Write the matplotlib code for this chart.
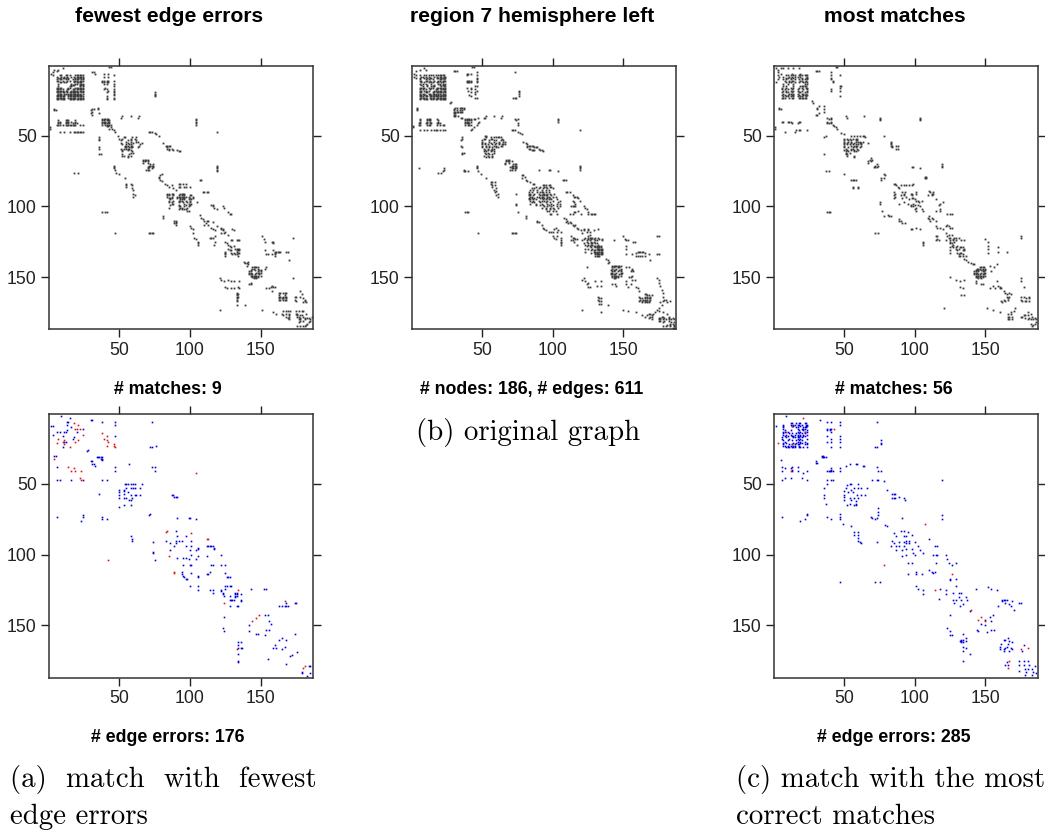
import matplotlib
matplotlib.use("Agg")
import matplotlib.pyplot as plt

# ---------- data: rows {y: [x, ...]} and single cells (x, y) ----------
fewest_rows = {
 7:[8,9,12,13,15,19,20,21,22,23,24], 8:[6,9,11,13,16,18,20,21,22,23,24], 9:[7,8,10,11,12,14,19,21,22,24],
 10:[6,8,9,12,14,17,19,20,21,23,24], 11:[6,7,10,13,15,18,19,20,22,23,24], 12:[8,9,11,12,18,20,21,22,23],
 13:[7,16,19,20,22,23,24], 14:[16,17,18,22,23,24], 15:[7,15,16,22,24], 16:[6,7,8,9,14,15,19,20,21,22,23,24],
 17:[6,7,8,10,13,14,17,18,20,21,22,23,24], 18:[6,7,8,9,10,12,13,16,17,18,19,20,22,23,24],
 19:[6,7,8,10,11,13,15,16,17,18,19,20,21,23,24], 20:[7,8,9,11,12,14,15,16,17,18,19,20,21,22,24],
 21:[6,7,8,9,11,14,15,16,18,19,20,21,22,23], 22:[6,7,8,9,10,11,14,15,16,17,18,19,20,21,22,23,24],
 23:[6,7,8,9,10,11,14,15,16,17,18,19,21,22,23,24], 24:[6,7,9,10,11,15,16,17,18,20,21,22,23,24],
 38:[38,39,40,41,42], 39:[7,12,13,14,19,38,39,41,42,43], 40:[7,8,12,13,14,16,19,38,39,40,42,43],
 41:[7,8,12,14,17,19,20,38,39,40,41,43], 42:[6,7,8,10,12,13,14,15,16,17,18,19,22,24,38,40,41,42,43,44],
 43:[41,42], 47:[8,11,15,18,19,20,21,22,23,24,71,72,73,119],
 51:[53,54,59,62], 52:[52,58,61], 53:[51,56,58,62], 54:[55,58,62,63], 55:[51,56,60,66,81], 56:[52,55,57,58,65],
 57:[54,55,56,58,59,64,83,84,85,86], 58:[54,55,57,58,59,63,84], 59:[51,53,55,56,57,84,85,87], 60:[52,56,58,85,88,91],
 61:[52,59,92,93], 62:[58,60], 63:[52,57], 64:[52,53,56,58], 65:[56],
 67:[67,68,69,70], 68:[67,68,70], 69:[67,70], 70:[72,74], 71:[71,72,73,74], 72:[70,71,74], 73:[70,73], 74:[69,70,71],
 91:[84,85,87,88,93,94,95,96], 92:[84,85,88,92,94,96,100,101], 93:[84,87,91,92,93,94,95,96,97,99,102],
 94:[85,86,87,91,93,95,96,100,102], 95:[86,93,94,96,99,101], 96:[85,88,92,93,94,97,100], 97:[85,87,92,95,98,100],
 98:[87,88,96,99,101], 99:[86,92,97,100], 100:[92,93,96,99], 101:[85,93,94,98], 102:[92,94,96,97], 103:[98,99],
 143:[144,145,146,147,148], 144:[144,145,148], 145:[143,146,149,150], 146:[142,143,148,150], 147:[142,143,147,148,149,150],
 148:[142,143,144,146,149], 149:[143,144,145,146,147,148,150], 150:[144,145,146,147,148], 151:[145,147],
 161:[163,164,166,167,168], 163:[163,167], 164:[163,164,166,167,168,174,175,178], 165:[163,165,166,168],
 166:[163,164,166,167,168,174,181],
}
fewest_cells = [(10,2),(7,3),(4,3),(6,4),(3,5),(2,6),(3,7),(43,1),(44,1),(31,5),(32,5),(33,6),(39,6),(42,6),(46,7),(39,8),(42,8),
 (38,11),(39,11),(41,11),(42,11),(46,11),(38,12),(39,12),(41,12),(42,12),(39,13),(41,13),(46,13),(46,15),(40,16),(39,17),(41,17),(46,17),(42,18),(46,18),
 (41,19),(46,19),(46,20),(46,21),(41,22),(41,23),(46,23),(41,24),(46,24),(75,19),(75,20),(75,21),(75,22),(4,31),(4,32),(5,32),
 (31,31),(32,31),(35,30),(35,31),(30,32),(31,33),(36,34),(30,34),(31,35),(45,45),(46,46),(47,47),(44,44),(43,45),(51,37),(52,36),(58,36),(63,37),(64,36),
 (104,38),(104,39),(104,40),(104,41),(104,42),(1,44),(1,45),(75,48),(76,49),(78,50),(36,51),(36,52),(36,53),(36,58),(36,59),(36,63),(37,63),
 (49,50),(50,52),(119,71),(119,72),(119,73),(119,74),(119,75),(46,71),(46,72),(46,73),(47,74),(48,76),(50,77),(54,80),(18,76),(21,76),
 (55,84),(55,85),(58,84),(59,85),(55,86),(59,87),(60,88),(60,91),(61,92),(60,93),(78,79),(79,78),(80,77),(78,80),(79,81),(80,82),(82,84),(84,85),(85,86),(87,85),(88,87),(90,88),
 (107,81),(108,81),(92,84),(93,84),(95,84),(97,84),(92,86),(93,86),(96,86),(97,86),(100,86),(109,90),(110,90),(112,90),(113,90),(105,97),
 (115,99),(116,99),(116,100),(117,101),(119,102),(123,100),(124,101),(127,104),(128,105),(129,105),(38,104),(40,104),(41,104),(81,107),(81,108),
 (90,110),(90,111),(90,112),(90,113),(89,110),(89,112),(107,106),(108,108),(109,109),(110,110),(111,112),(112,110),(113,110),(110,113),(113,113),(115,115),(116,116),(116,111),(118,117),(119,114),
 (122,115),(122,116),(123,116),(122,119),(123,117),(125,118),(124,119),(127,120),(130,116),(131,117),(100,114),(101,115),(102,116),(102,119),(103,122),(104,123),(106,125),(106,126),(106,127),
 (114,122),(115,122),(116,122),(118,121),(118,125),(117,127),(47,119),(71,119),(72,119),(73,119),(74,119),(129,124),(130,124),(133,124),(134,124),(135,124),
 (125,125),(126,126),(127,127),(128,128),(129,129),(127,130),(128,131),(129,131),(131,128),(132,130),(133,130),(134,130),(135,130),(133,131),(134,131),(135,131),(131,133),(132,134),(133,132),(134,133),(135,133),
 (125,132),(125,133),(125,134),(125,135),(134,135),(133,134),(129,133),(130,134),(138,139),(139,140),(140,140),(141,139),(141,141),(140,142),(154,143),(153,144),
 (121,151),(122,152),(124,153),(127,152),(131,153),(135,153),(129,153),(143,154),(143,155),(142,155),(125,157),(126,158),(129,158),(131,158),(134,157),(135,158),
 (133,161),(133,162),(133,163),(133,164),(133,165),(133,166),(133,167),(134,162),(134,164),(133,170),(139,170),(121,173),(151,173),
 (151,121),(152,123),(153,125),(158,125),(159,125),(159,126),(153,131),(154,134),(155,134),(158,134),(159,131),(160,132),(161,132),(162,132),(163,132),(164,132),(168,132),(169,132),(160,133),(160,134),(160,135),(170,138),(173,122),(173,151),
 (158,156),(157,157),(154,158),(159,157),(160,157),(156,158),(158,160),(178,160),(179,162),(180,165),(182,168),(175,167),(180,168),(181,167),
 (159,175),(161,176),(165,176),(166,177),(168,174),(169,174),(170,176),(170,177),(168,178),(169,179),(170,180),(168,176),(166,174),(171,174),(170,178),
 (175,174),(177,174),(179,174),(180,174),(175,176),(176,176),(176,177),(177,178),(178,177),(179,177),(180,178),(178,179),(181,179),(177,180),(178,180),(181,180),(180,181),(178,181),(176,178),(177,182),(182,176),(183,179),(184,179),(185,180),(185,181),(184,182),(183,183),(182,184),(180,185),(178,185),(181,185),(176,185),(186,178)]

original_rows = {
 7:[9,10,12,14,15,17,19,20,21,22,23], 8:[7,8,10,12,16,18,20,21,23,24], 9:[6,9,11,13,14,18,19,21,22,24], 10:[6,10,12,15,20,21,23],
 11:[6,7,10,11,13,16,19,20,22,23,24,39,40,41,42,46], 12:[7,9,12,14,15,18,19,21,22,39,40,41,42,46], 13:[6,8,10,14,19,20,22,24], 14:[7,11,16,20,22,23],
 15:[8,11,14,15,16,21,23,24,45,46], 16:[6,7,8,9,12,14,15,18,19,20,21,22,24,39,42], 17:[6,8,10,13,17,18,21,22,23,24,42,45], 18:[6,7,9,10,12,16,17,19,20,21,23,24,40,46,76],
 19:[6,7,10,11,15,16,18,19,20,21,22,24,42,45,76], 20:[6,8,9,12,13,15,16,17,19,20,22,24,45,76], 21:[6,7,9,10,13,14,16,17,19,21,22,23,24,41],
 22:[6,7,8,10,11,13,14,15,16,17,18,19,20,21,22,24,42,76], 23:[6,7,8,9,10,13,14,15,16,18,19,20,21,22,23,24,45,46,73,74], 24:[6,9,10,11,14,15,17,18,20,21,22,23,24],
 30:[4,31,32,34,35,36,37], 31:[4,30,37], 32:[4,30,32,34,36], 33:[30,31,32,33,34,35,36], 34:[30,31], 35:[30,31], 36:[30,31,33,53,58,64], 37:[35,36,47,51,52,63],
 38:[6,11,12,13,18,38,39,40,41,42,44,45,73,75,104], 39:[6,11,12,13,19,38,39,41,42,74,104], 40:[6,11,13,19,38,39,40,42,48,104],
 41:[5,6,10,11,13,14,18,19,20,38,39,40,41,47,75], 42:[5,6,11,12,13,18,20,22,23,38,40,41,42,46,75],
 46:[6,9,11,14,16,17,18,20,22,24,42,71,72,73,119],
 50:[52,53], 51:[36,53,56,58,60,61,62,63], 52:[36,51,52,56,57,64], 53:[35,50,55,58,60,63,65], 54:[50,55,58,62,65,66,79], 55:[50,52,56,60,62,81], 56:[50,52,54,57,59,62,64,65,66,82],
 57:[35,50,53,55,58,60,63,64,82,83,84,85,86], 58:[36,50,53,55,57,60,61,82,87,88,89], 59:[51,54,57,58,83,84,90], 60:[52,54,56,57,85,86,87,91,92], 61:[51,53,56,58,93], 62:[36,37,52,54,58], 63:[36,53,55,57], 64:[51,54,57], 65:[53,55,57],
 67:[67,68,69], 68:[67,68,69,71], 69:[66,69], 70:[66,72,73,74], 71:[46,71,72,73,74,119], 72:[46,70,71,74,119], 73:[5,23,46,71,72,73,74,119], 74:[23,37,70,71,73,90,97,98,119],
 84:[86,87], 85:[93,94,95,97,98], 86:[88,91,94,95,98,99], 87:[85,87,90,93,96,100], 88:[84,86,89,92,95,97],
 90:[83,85,89,91,92,93,95,97,109,110,112], 91:[74,83,84,87,90,93,94,96,98,101], 92:[83,84,86,91,92,94,95,96,99,114], 93:[84,85,89,90,92,93,96,97,100,102,115,116,117],
 94:[83,85,87,91,92,94,96,98,118], 95:[83,84,86,88,93,95,97,99,103], 96:[84,86,90,92,94,96,100,105,114,119], 97:[85,87,91,95,98,104,115],
 98:[74,84,88,92,96,99,103,105,116], 99:[74,88,91,93,97,100], 100:[94,96,99,103,105,113,114,115,116,122], 101:[92,95,98,100,104,123], 102:[95,98,101,124], 103:[96,97,100,102,118],
 104:[38,39,40,75,115,116,125], 105:[98,99,103,112,114,120,125,127,128,129,130],
 122:[123,125,126,127,128,130,132,101,106,114,115], 123:[122,125,127,129,133,135,102,151,116,117], 124:[121,124,126,130,131,135,106,143,113,114,152,153], 125:[124,127,129,106,115,157,158],
 126:[122,125,127,128,130,131,106], 127:[123,125,127,128,132,106,117], 128:[124,126,129,130,131,133,134,152], 129:[127,130,131,132,133,134], 130:[123,125,128,131,132,133,134,135,152],
 131:[127,129,130,132,133,134,135], 132:[123,129,130,131,133,134,135,160,161,162,163,164], 133:[127,130,131,132,134,135,159,165], 134:[130,131,132,133,134,135,152,156,168,174,175], 135:[130,131,132,133,159,160,162,163,165],
 142:[142,143,144,145,146,147,148], 143:[142,143,146,147,152,154,124], 144:[142,145,148,156], 145:[141,143,144,147,148,156], 146:[142,143,146,148,155,157], 147:[141,142,145,148,149],
 148:[141,142,143,144,147,148], 149:[142,143,144,145,146,148,156], 150:[142,144,145,146,154,155], 151:[143,144,122,174],
 164:[132,161,165,167,169,178], 165:[133,134,162,163,165,167,168,169], 166:[132,162,164,165,167,169,179,180], 167:[133,134,161,163,165,166,168,178,183], 168:[163,165,167,168,176,181],
 179:[168,175,176,179,182,185], 180:[170,175,176,178,180,182,184,186], 181:[175,176,179,182], 182:[178,184,186], 183:[183,185], 184:[181,183,186], 185:[178,180,183,186], 186:[185,186],
}
original_cells = [(2,6),(3,4),(6,3),(9,2),(10,3),(3,7),(2,8),(3,9),(6,7),(43,1),(44,1),(30,4),(31,4),(32,4),(39,6),(40,6),(42,6),(46,5),(46,7),(73,5),(39,7),(46,9),(46,10),
 (72,23),(27,27),(28,26),(44,44),(43,45),(42,46),(1,43),(1,44),(75,47),(77,48),(78,49),(37,75),(38,75),(40,75),(19,76),(21,76),(22,75),(47,75),(49,77),(53,80),(104,75),
 (56,83),(56,84),(57,86),(58,88),(59,90),(60,92),(61,93),(59,83),(59,85),(60,87),(60,89),(61,91),(57,83),(57,85),(78,78),(79,78),(78,80),(80,79),(81,81),(82,82),(84,83),(107,81),(108,81),(109,81),
 (81,107),(81,108),(47,119),(71,119),(72,119),(73,119),(74,119),(89,110),(89,111),(90,111),(92,113),(93,115),(94,116),(95,117),(97,118),(99,118),(100,118),(101,116),(103,118),(102,115),(104,117),(106,118),
 (108,108),(109,109),(110,110),(109,111),(111,112),(112,111),(113,112),(114,113),(115,114),(116,113),(117,115),(118,116),(120,117),(122,116),(122,117),(124,118),(125,116),(125,117),(126,118),(126,120),(129,117),(132,116),(121,119),(125,121),
 (100,121),(103,121),(113,121),(138,137),(139,138),(140,139),(139,140),(150,121),(157,125),(169,138),(174,121),(175,121),
 (121,152),(122,151),(123,153),(124,155),(125,154),(125,157),(126,157),(130,153),(131,156),(134,153),(134,156),(142,155),(144,155),(145,156),(152,153),(156,152),(158,152),(152,155),(153,157),(155,155),
 (159,157),(160,158),(161,160),(165,162),(166,162),(167,163),(168,163),(170,163),(174,151),(175,152),(175,154),(176,156),(177,159),(178,161),
 (133,169),(134,169),(134,175),(139,170),(121,173),(150,173),(153,174),(159,175),(163,177),(165,178),(167,177),(168,176),(169,176),(169,178),(170,177),(170,178),(171,176),(172,175),(174,173),(175,172),(177,170),
 (175,174),(178,175),(181,176),(177,178),(178,178),(182,178)]

most_rows = {
 6:[13,19], 7:[9,10,12,14,15,18,19,20,22,23,24], 8:[7,11,13,15,17,19,24], 9:[9,10,12,14,20,23,24], 10:[7,9,12,15,18,20,22,24], 11:[8,11,13,14,19,20,23,42],
 12:[9,11,12,15,18,21,22,24,42], 13:[7,10,14,22,24], 15:[7,9,14,19,20,21,22,23,47,48], 16:[6,9,12,14,18,20,23,24,47], 17:[6,8,10,13,17,21,24,41], 18:[7,9,12,14,17,20,24,41,47],
 19:[6,9,10,13,18,19,22,24], 20:[7,11,12,14,17,20,21,23], 21:[6,8,10,13,14,18,21,22,24], 22:[7,9,10,12,14,17,19,20,23,47], 23:[6,7,8,11,13,14,18,19,20,21,22,23],
 50:[55,57,59,61,63,64,78], 52:[50,52,54,56,58,59], 53:[50,53,55,58,59], 54:[50,53,55,58,60,61,63,83], 55:[50,52,55,57,61,62,67,83], 56:[50,52,54,56,58,60,62,83],
 57:[50,55,57,58,59,62,83,87,88], 58:[50,53,56,58,61,84], 59:[51,55,56,59,87,88], 60:[50,52,55,57,60], 61:[51,53,57,58], 62:[51,54], 63:[36,51,52], 64:[52,57], 65:[57],
 143:[146,147,148,149], 144:[144,145,146,148,150], 145:[143,144,145,147,148,150], 146:[142,143,145,148,149,154], 147:[142,143,144,147,149,150], 148:[142,143,145,146,148,149],
 149:[143,144,145,146,147,148,150], 150:[143,144,146,148], 151:[145,147],
}
most_cells = [(2,2),(3,3),(5,2),(7,2),(10,2),(14,2),(18,2),(3,5),(3,7),(4,8),(3,10),(2,12),(5,6),(30,4),(31,4),(32,4),(44,1),(45,1),(41,5),(41,7),(47,7),(41,9),(41,10),
 (4,30),(4,31),(5,31),(27,25),(28,27),(31,30),(31,31),(32,29),(36,29),(36,31),(36,33),(30,35),(31,35),(32,34),(38,37),(39,38),(41,37),(41,38),(38,40),(39,41),(41,40),(41,41),(38,41),
 (42,42),(43,43),(44,44),(45,45),(1,44),(1,45),(51,36),(52,37),(64,36),(75,37),(75,38),(75,39),(104,37),(104,38),(104,39),(6,40),(7,40),(10,40),(11,40),(12,40),(13,41),(17,41),(18,40),(19,40),
 (8,47),(15,47),(16,46),(18,46),(19,46),(24,46),(37,50),(36,51),(48,48),(50,49),(65,51),(84,57),(119,70),(119,71),(119,72),(98,72),(99,72),(104,73),
 (67,68),(68,67),(69,66),(67,69),(69,68),(70,67),(72,71),(73,70),(72,72),(73,72),(71,72),(74,71),(37,75),(39,75),(50,77),(55,81),(56,81),(57,81),(58,81),(56,86),(56,87),(60,86),(60,87),
 (78,77),(79,78),(76,80),(76,81),(78,80),(107,79),(107,80),(108,80),(108,79),(85,84),(86,84),(87,85),(88,86),(89,87),(90,85),(92,85),(94,85),(96,85),(98,85),(99,84),
 (85,90),(86,91),(85,92),(86,93),(85,94),(91,90),(92,91),(93,90),(92,92),(90,92),(94,93),(91,94),(97,91),(98,91),(98,92),(101,90),(101,91),(98,94),(99,94),(100,95),(96,95),(92,97),(89,98),(95,98),(97,99),
 (101,96),(102,96),(99,98),(100,99),(102,99),(103,97),(104,100),(99,100),(101,101),(97,100),(75,97),(75,98),(77,103),(78,107),(81,106),(82,107),(83,107),(38,104),(39,104),(40,104),(100,102),(101,103),(105,96),(105,102),(106,103),
 (110,89),(111,90),(112,91),(113,91),(115,95),(109,92),(112,92),(113,90),(120,97),(118,98),(117,99),(118,102),(115,103),(118,103),(123,105),(125,105),(126,105),(110,107),(109,108),(112,108),(110,109),(111,110),(113,109),(115,110),
 (89,109),(89,110),(90,110),(91,112),(93,112),(97,116),(98,116),(101,115),(104,116),(72,119),(74,119),(115,114),(116,115),(118,115),(120,116),(122,114),(123,113),(124,114),(125,115),(126,115),
 (122,119),(124,120),(126,120),(128,122),(129,122),(115,121),(116,121),(116,123),(115,124),(117,124),(122,124),(106,125),(106,126),(106,127),(123,121),(124,122),(125,122),(127,123),(125,124),(127,124),(129,124),(131,122),(133,124),(135,124),
 (128,125),(125,125),(125,126),(126,126),(127,127),(125,129),(125,131),(125,133),(126,128),(127,129),(129,129),(130,128),(131,130),(130,131),(129,130),(130,133),(131,134),(132,133),(133,133),(133,129),(134,129),(135,130),(134,131),(135,131),(136,135),(132,135),(131,135),(134,135),(134,134),(132,129),
 (135,137),(136,138),(138,139),(140,140),(141,141),(142,141),(150,123),(152,125),(152,128),(152,130),(152,133),(159,129),(159,132),(165,132),(175,122),(175,121),(158,141),(153,142),(156,143),
 (143,153),(143,154),(147,155),(148,155),(155,156),(153,158),(125,150),(129,152),(132,153),(135,152),(132,157),(134,158),(133,163),(135,163),(121,172),(151,172),(155,173),(160,175),(175,151),(175,153),(177,157),(159,156),(160,158),(161,158),(160,157),(158,153),(157,158),
 (163,160),(164,161),(165,162),(167,161),(168,162),(167,164),(165,164),(166,165),(163,166),(164,167),(161,167),(162,168),(166,166),(175,164),(175,166),(177,164),(179,165),(179,167),(181,165),(181,167),(176,167),(178,167),(181,164),
 (166,176),(168,176),(170,174),(166,178),(167,178),(169,178),(166,180),(167,180),(169,180),(168,175),(171,172),(177,177),(180,175),(176,178),(178,177),(180,177),(182,176),(181,179),(178,179),(175,178),(180,180),(183,178),(182,180),(184,180),(185,179),(186,180),(182,183),(184,184),(185,183),(183,185),(186,182)]

match_a_blue = [(9,2),(15,3),(13,6),(14,6),(30,5),(31,5),(38,6),(47,6),(47,8),(73,6),(2,9),(3,9),(13,8),(24,11),(6,13),(8,13),(11,13),(12,13),(13,12),(16,10),(3,15),(10,16),(20,13),(47,16),(17,18),(18,17),(11,20),(12,20),(10,24),
 (72,24),(73,24),(76,23),(27,27),(28,26),(4,30),(5,30),(30,34),(31,34),(31,36),(32,36),(33,37),(34,31),(35,31),(36,31),(37,31),(38,31),(37,32),(38,32),(38,33),(57,36),(6,38),(47,38),(47,41),(73,38),(75,38),(75,41),
 (6,47),(8,47),(16,47),(24,47),(38,47),(41,47),(54,50),(55,50),(56,50),(58,50),(60,50),(61,50),(66,50),(50,54),(53,54),(55,53),(58,53),(60,53),(61,53),(65,53),(50,56),(50,58),(50,60),(53,55),(53,57),(53,60),(56,56),(58,58),(61,58),(62,58),(65,58),(57,61),(58,61),(36,57),(50,66),(53,65),(58,65),(55,60),(59,60),
 (87,58),(88,58),(89,59),(90,59),(91,59),(72,71),(71,72),(6,73),(24,72),(24,73),(23,76),(38,73),(38,75),(41,75),(91,74),(99,74),(100,74),(104,75),(58,87),(59,89),(59,90),(74,91),(74,98),(74,99),(75,104),
 (90,83),(91,87),(97,87),(83,90),(86,92),(90,90),(92,90),(94,90),(101,90),(90,92),(89,94),(86,97),(91,102),(95,102),(97,102),(99,103),(95,107),(101,107),(100,107),(97,94),(101,94),(106,95),(106,96),(104,97),(100,97),(101,100),(106,101),(104,103),(112,101),
 (112,94),(113,94),(114,94),(115,94),(116,94),(117,95),(117,96),(122,100),(115,107),(116,107),(122,107),(125,107),(94,112),(94,114),(95,115),(96,116),(97,117),(98,117),(101,113),(106,115),(106,116),(112,114),(113,114),(114,112),(125,113),(126,116),(127,116),(128,116),
 (100,122),(106,122),(106,125),(114,125),(116,125),(116,127),(122,125),(122,126),(123,127),(123,128),(124,129),(125,122),(126,122),(128,122),(129,122),(125,124),(128,129),(128,132),(129,132),(130,132),(131,132),(133,127),(133,128),(133,129),(132,127),(132,128),(132,129),(132,130),(136,128),(136,132),(136,133),(133,136),(134,136),(128,136),
 (124,144),(123,152),(124,154),(143,124),(152,124),(154,124),(163,136),(165,136),(167,136),(168,136),(169,136),(168,134),(174,134),(175,134),(153,143),(155,143),(156,147),(157,149),(154,153),(156,153),(153,157),(148,156),(147,156),(142,150),(142,154),
 (134,162),(136,162),(134,164),(136,166),(137,166),(134,166),(134,170),(134,175),(134,176),(160,164),(159,166),(161,166),(165,167),(163,160),(165,159),(168,160),(167,165),(155,174),(168,177),(171,172),(172,171),(176,169),(174,156),(184,179),(185,179),(179,183),(179,184),(185,184),(183,186)]
match_a_red = [(18,7),(21,8),(19,11),(20,11),(22,11),(24,15),(7,18),(10,20),(11,19),(6,21),(11,22),(15,24),(19,20),(21,19),(38,14),(41,16),(39,18),(41,19),(42,20),(41,23),(46,22),(46,23),(47,24),(4,32),
 (14,38),(18,39),(16,41),(19,41),(23,41),(22,46),(23,47),(104,42),(83,84),(84,83),(101,85),(85,101),(42,104),(89,112),(89,113),(112,89),(113,89),(149,143),(147,145),(144,147),(133,167),(180,180),(181,179),(167,133),(124,134),(134,125)]

match_c_rows = {
 7:[12,13,16,18,19,22,23], 8:[7,12,14,15,17,18,20,23,24], 9:[7,13,14,19,23,24], 10:[7,16,17,21,22,23], 11:[7,17,20,21,22,38,40,41], 12:[8,12,18,21,24,38,40],
 13:[7,8,10,17,19,22,24,41], 14:[7,11,13,16,18,20,22], 15:[7,9,12,15,17,19,21,24], 16:[8,10,13,14,17,19,21,22,38,47], 17:[6,9,14,15,17,18,20],
 18:[6,11,17,19,24,41,47], 19:[7,10,13,16,18,20,76], 20:[8,17,19,22,38,41,47], 21:[7,9,14,16,19,20,24,76], 22:[7,11,13,15,17,18,22,24,76], 23:[7,8,10,12,14,15,18], 24:[9,10,11,13,14,15,18,19,21,24,41,47,72,73],
}
match_c_blue = [(9,2),(33,5),(2,9),(38,6),(41,6),(47,6),(47,8),(73,6),(34,31),(35,31),(36,31),(37,31),(34,30),(35,30),(30,34),(30,35),(31,35),(5,33),(6,38),(6,41),(8,39),(12,39),(13,38),(13,40),(13,41),(17,38),(17,41),(21,42),(24,41),
 (38,41),(39,41),(40,41),(41,41),(42,41),(41,39),(41,40),(47,39),(47,41),(51,37),(54,36),(58,36),(59,36),(63,37),(64,37),(73,38),(74,41),(76,41),(6,47),(8,46),(12,46),(20,46),(24,47),(38,47),(41,47),(42,47),(70,47),(73,47),(74,47),(78,48),(80,54),(119,47),
 (38,50),(36,53),(36,58),(36,60),(37,64),(54,50),(55,50),(60,50),(52,51),(51,53),(50,55),(50,58),(50,59),(50,61),(52,65),(54,64),(57,65),(58,65),(58,64),(55,54),(57,53),(60,53),(62,53),(66,53),(53,56),(56,56),(59,58),(62,58),(65,58),(54,60),(57,60),(60,60),(58,62),(55,61),
 (84,57),(85,57),(86,57),(84,60),(85,60),(86,60),(89,59),(92,60),(93,61),(74,67),(74,70),(74,72),(73,74),(70,74),(72,75),(69,73),(6,73),(19,76),(22,75),(24,72),(24,71),(38,73),(41,75),(47,71),(47,73),(47,75),(49,78),(55,80),(91,74),(119,72),(119,75),
 (57,84),(57,86),(60,84),(60,86),(60,88),(60,90),(61,91),(62,92),(79,79),(80,80),(90,83),(92,83),(95,84),(85,85),(87,87),(92,87),(94,87),(98,86),(84,90),(85,92),(83,94),(87,94),(89,91),(92,91),(94,90),(96,90),(89,94),(92,94),(94,92),(96,92),(100,91),(87,97),(91,97),(94,96),(98,96),(102,94),(99,99),(104,97),(91,101),(94,100),(100,100),(106,99),(95,106),(98,106),(73,91),
 (110,89),(114,94),(116,94),(113,100),(115,100),(116,100),(122,100),(123,103),(124,106),(115,106),(126,107),(129,106),(110,111),(112,112),(113,113),(114,112),(95,114),(101,114),(101,112),(105,114),(125,117),(125,118),(129,117),(129,122),(47,119),(72,119),(75,119),
 (101,122),(102,124),(106,125),(106,128),(118,124),(117,131),(122,128),(122,125),(143,124),(152,123),(154,124),(158,125),(127,127),(131,127),(133,127),(136,130),(137,132),(134,135),(132,136),(128,134),(127,132),(131,130),(133,132),(129,132),
 (162,132),(163,132),(164,132),(165,132),(162,133),(164,134),(159,136),(168,136),(169,133),(174,134),(175,134),(170,139),(167,135),(139,140),(150,146),(147,149),(150,150),(144,153),(145,154),(151,155),(154,153),(156,153),(153,144),(155,143),(154,147),(125,143),(123,152),(125,154),(125,157),(126,157),
 (133,160),(134,160),(132,161),(133,161),(134,162),(133,162),(134,156),(136,159),(136,161),(134,165),(136,166),(134,168),(139,170),(134,175),(164,160),(166,159),(167,161),(169,162),(160,165),(160,167),(163,160),(164,166),(165,165),(163,167),(168,166),(169,167),(167,168),(161,163),(163,168),(166,163),
 (177,164),(176,168),(165,176),(166,178),(164,178),(174,175),(177,175),(180,175),(174,178),(177,178),(181,178),(185,179),(178,181),(180,181),(183,181),(185,179),(174,182),(179,183),(184,183),(178,185),(183,185),(186,184)]
match_c_red = [(21,3),(13,9),(9,13),(22,13),(3,21),(13,22),(43,11),(12,41),(107,78),(78,107),(126,114),(114,125),(140,139),(147,144),(145,146),(150,147),(180,166),(175,167),(167,175),(166,180)]

tick_values = [50, 100, 150]
titles = ["fewest edge errors", "region 7 hemisphere left", "most matches"]
top_notes = ["# matches: 9", "# nodes: 186, # edges: 611", "# matches: 56"]
bottom_notes = ["# edge errors: 176", "# edge errors: 285"]

GRAY, BLUE, RED = "#3c3c3c", "#0000d8", "#e01010"
W, H = 1045, 832
fig = plt.figure(figsize=(W/100, H/100), dpi=100)
SANS = ["Liberation Sans"]

def expand(rows=None, cells=()):
    pts = set(cells)
    for y, xs in (rows or {}).items():
        pts.update((x, y) for x in xs)
    pts = sorted(pts)
    return [p[0] for p in pts], [p[1] for p in pts]

def panel(left, right, top, bottom, layers, size):
    ax = fig.add_axes([left/W, 1-bottom/H, (right-left)/W, (bottom-top)/H])
    for (xs, ys), c in layers:
        ax.scatter(xs, ys, s=size, marker='s', c=c, linewidths=0, zorder=2, snap=False)
    ax.set_xlim(0.5, 187)
    ax.set_ylim(187, 0.5)
    ax.set_xticks(tick_values); ax.set_yticks(tick_values)
    ax.tick_params(axis='both', which='major', length=6, width=1.0, color='#222222', top=True, right=True,
                   labelsize=12.7, labelcolor='#222222', pad=3)
    for lab in ax.get_xticklabels() + ax.get_yticklabels():
        lab.set_fontfamily(SANS)
    for s in ax.spines.values():
        s.set_linewidth(1.1); s.set_color('#333333')
    return ax

panel(49.3, 313, 66, 329.3, [(expand(fewest_rows, fewest_cells), GRAY)], 1.7)
panel(412.3, 675.7, 66, 329.3, [(expand(original_rows, original_cells), GRAY)], 1.7)
panel(774.3, 1037.7, 66, 329.3, [(expand(most_rows, most_cells), GRAY)], 1.7)
panel(49.3, 313, 414, 677.7, [(expand(None, match_a_blue), BLUE), (expand(None, match_a_red), RED)], 1.4)
panel(774.3, 1037.7, 414, 677.7, [(expand(match_c_rows, match_c_blue), BLUE), (expand(None, match_c_red), RED)], 1.4)

def label(px, py, s, size, **kw):
    fig.text(px/W, 1-py/H, s, fontsize=size, ha=kw.pop('ha', 'center'), va='center', **kw)

for cx, t in zip((169, 532, 895), titles):
    label(cx, 17, t, 15.2, family=SANS, fontweight='bold', color='black')
for cx, t in zip((168, 532, 894), top_notes):
    label(cx, 390, t, 12.8, family=SANS, fontweight='bold', color='black')
for cx, t in zip((168, 894), bottom_notes):
    label(cx, 738, t, 12.8, family=SANS, fontweight='bold', color='black')

CM = "cmr10"
label(10, 780, "(a)  match  with  fewest", 20.8, family=CM, ha='left')
label(10, 817, "edge errors", 20.8, family=CM, ha='left')
label(416, 432, "(b) original graph", 20.8, family=CM, ha='left')
label(736, 780, "(c) match with the most", 20.8, family=CM, ha='left')
label(736, 817, "correct matches", 20.8, family=CM, ha='left')

fig.savefig("out.png", dpi=100, facecolor='white')
